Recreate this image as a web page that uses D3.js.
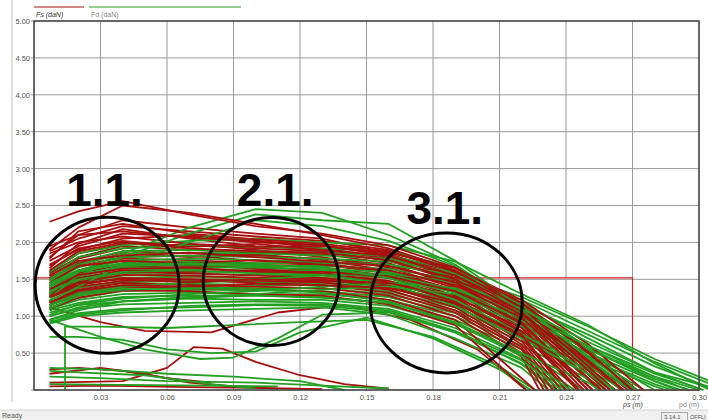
<!DOCTYPE html>
<html>
<head>
<meta charset="utf-8">
<script src="https://cdn.jsdelivr.net/npm/d3@7"></script>
<style>
  body { margin: 0; background: #fff; }
  svg { display: block; font-family: "Liberation Sans", Arial, sans-serif; }
  .tick text { font-size: 7.5px; fill: #555; }
</style>
</head>
<body>
<div class="canvas"></div>
<script>
const dims = { width: 708, height: 420, left: 34, right: 699, top: 21, bottom: 390 };

// shared stroke positions (m) for the main curves
const xs = [0.007, 0.02, 0.04, 0.07, 0.10, 0.13, 0.16, 0.19, 0.22, 0.25, 0.28];

// Fs (red) curves, values in daN on xs, then they fall to 0 at redEnds
const redCurves = [
    [1.88, 2.05, 2.22, 2.15, 2.08, 2.02, 1.90, 1.62, 1.15, 0.55],
    [1.80, 2.10, 2.30, 2.20, 2.12, 2.05, 1.85, 1.50, 1.02],
    [1.75, 1.95, 2.12, 2.08, 2.00, 1.96, 1.84, 1.58, 1.10, 0.42],
    [1.70, 1.90, 2.05, 2.10, 2.02, 1.92, 1.80, 1.52, 1.05],
    [1.65, 1.98, 2.18, 2.05, 1.95, 1.90, 1.78, 1.46, 0.95],
    [1.60, 1.85, 1.98, 1.96, 1.92, 1.88, 1.75, 1.48, 1.00, 0.35],
    [1.58, 1.80, 1.95, 1.90, 1.86, 1.84, 1.72, 1.40, 0.92],
    [1.55, 1.78, 1.92, 1.98, 1.90, 1.80, 1.66, 1.38, 0.88],
    [1.52, 1.72, 1.88, 1.85, 1.82, 1.78, 1.70, 1.44, 0.96, 0.30],
    [1.50, 1.70, 1.85, 1.80, 1.84, 1.76, 1.62, 1.35, 0.85],
    [1.48, 1.68, 1.80, 1.82, 1.75, 1.72, 1.60, 1.32, 0.80],
    [1.45, 1.62, 1.78, 1.76, 1.72, 1.70, 1.58, 1.36, 0.90],
    [1.42, 1.60, 1.72, 1.74, 1.70, 1.66, 1.55, 1.28, 0.78],
    [1.40, 1.58, 1.70, 1.68, 1.66, 1.62, 1.52, 1.25, 0.72],
    [1.38, 1.55, 1.66, 1.70, 1.64, 1.58, 1.48, 1.22, 0.70],
    [1.35, 1.52, 1.62, 1.60, 1.62, 1.56, 1.46, 1.20, 0.66],
    [1.32, 1.50, 1.60, 1.58, 1.55, 1.52, 1.42, 1.16, 0.62],
    [1.30, 1.46, 1.56, 1.55, 1.52, 1.50, 1.40, 1.12, 0.58],
    [1.28, 1.42, 1.52, 1.50, 1.48, 1.46, 1.36, 1.08, 0.55],
    [1.25, 1.40, 1.48, 1.50, 1.45, 1.42, 1.32, 1.05, 0.50],
    [1.20, 1.36, 1.45, 1.42, 1.40, 1.38, 1.28, 1.00, 0.45],
    [1.15, 1.30, 1.40, 1.38, 1.36, 1.34, 1.22, 0.95],
    [1.10, 1.25, 1.35, 1.34, 1.30, 1.28, 1.16, 0.88],
    [1.85, 2.00, 2.08, 1.98, 1.94, 1.95, 1.86, 1.65, 1.22, 0.62],
    [1.78, 2.15, 2.25, 2.12, 2.04, 1.98, 1.88, 1.60, 1.18, 0.50],
    [1.68, 1.92, 2.02, 1.94, 1.98, 1.90, 1.82, 1.55, 1.12, 0.40],
    [1.62, 1.88, 2.00, 1.92, 1.88, 1.86, 1.76, 1.50, 1.02],
    [2.28, 2.42, 2.56, 2.38, 2.22, 2.12, 1.96, 1.66, 1.18, 0.52],
    [1.90, 2.20, 2.50, 2.40, 2.25, 2.10, 1.92, 1.62, 1.12],
    [1.55, 1.75, 1.82, 1.86, 1.80, 1.74, 1.68, 1.46, 1.02, 0.38],
    [1.45, 1.68, 1.75, 1.72, 1.76, 1.70, 1.62, 1.42, 0.98],
    [1.36, 1.56, 1.64, 1.66, 1.60, 1.60, 1.54, 1.34, 0.92],
    [1.26, 1.45, 1.50, 1.46, 1.50, 1.48, 1.45, 1.26, 0.84],
    [1.18, 1.34, 1.42, 1.40, 1.44, 1.42, 1.38, 1.18, 0.75],
    [1.95, 2.10, 2.15, 2.06, 2.02, 1.96, 1.82, 1.55, 1.06]
];
const redEnds = [0.272, 0.258, 0.268, 0.262, 0.255, 0.265, 0.252, 0.250, 0.262, 0.248,
    0.246, 0.252, 0.245, 0.242, 0.240, 0.238, 0.236, 0.234, 0.232, 0.230,
    0.228, 0.226, 0.222, 0.275, 0.270, 0.266, 0.258, 0.270, 0.262, 0.266,
    0.256, 0.250, 0.246, 0.240, 0.260];

// Fd (green) curves
const greenCurves = [
    [0.90, 1.00, 1.05, 1.08, 1.10, 1.12, 1.02, 0.70, 0.30],
    [0.95, 1.04, 1.10, 1.12, 1.15, 1.14, 1.06, 0.78, 0.36],
    [1.00, 1.10, 1.16, 1.18, 1.20, 1.18, 1.10, 0.84, 0.42],
    [1.05, 1.15, 1.20, 1.24, 1.22, 1.22, 1.14, 0.90, 0.48],
    [1.08, 1.18, 1.26, 1.28, 1.28, 1.26, 1.18, 0.95, 0.55],
    [1.10, 1.22, 1.30, 1.32, 1.30, 1.30, 1.22, 1.00, 0.60, 0.15],
    [1.12, 1.25, 1.34, 1.36, 1.35, 1.34, 1.26, 1.04, 0.66, 0.22],
    [1.15, 1.28, 1.38, 1.40, 1.38, 1.38, 1.30, 1.08, 0.72, 0.28],
    [1.18, 1.32, 1.42, 1.44, 1.42, 1.42, 1.34, 1.12, 0.76, 0.32],
    [1.20, 1.35, 1.46, 1.48, 1.46, 1.45, 1.38, 1.16, 0.80, 0.36],
    [1.22, 1.38, 1.48, 1.50, 1.50, 1.48, 1.40, 1.20, 0.86, 0.42, 0.05],
    [1.25, 1.42, 1.52, 1.54, 1.52, 1.52, 1.44, 1.24, 0.90, 0.46, 0.08],
    [1.28, 1.45, 1.55, 1.58, 1.56, 1.55, 1.48, 1.28, 0.94, 0.50, 0.12],
    [1.30, 1.48, 1.58, 1.60, 1.60, 1.58, 1.52, 1.32, 0.98, 0.55, 0.15],
    [1.32, 1.50, 1.62, 1.64, 1.62, 1.62, 1.56, 1.36, 1.02, 0.60, 0.18],
    [1.35, 1.54, 1.65, 1.66, 1.66, 1.64, 1.60, 1.45, 1.15, 0.75, 0.32],
    [1.38, 1.56, 1.68, 1.70, 1.68, 1.68, 1.64, 1.50, 1.22, 0.80, 0.38],
    [1.40, 1.60, 1.72, 1.74, 1.72, 1.72, 1.70, 1.56, 1.26, 0.86, 0.42],
    [1.42, 1.62, 1.75, 1.78, 1.76, 1.74, 1.70, 1.55, 1.18, 0.70, 0.24],
    [1.45, 1.66, 1.80, 1.82, 1.80, 1.78, 1.74, 1.60, 1.16, 0.58, 0.12],
    [1.48, 1.70, 1.84, 1.86, 1.85, 1.82, 1.78, 1.58, 1.12, 0.52],
    [1.50, 1.74, 1.88, 1.90, 1.88, 1.86, 1.82, 1.62, 1.08, 0.46],
    [1.55, 1.80, 1.92, 1.96, 1.94, 1.92, 1.88, 1.66, 1.04, 0.40],
    [1.60, 1.85, 1.96, 2.02, 2.05, 2.00, 1.96, 1.74, 1.30, 0.88, 0.36],
    [1.30, 1.60, 1.85, 2.20, 2.45, 2.40, 2.10, 1.70, 1.10, 0.42],
    [1.25, 1.55, 1.80, 2.12, 2.38, 2.30, 2.25, 1.75, 1.12, 0.45],
    [1.20, 1.40, 1.70, 2.00, 2.30, 2.22, 2.02, 1.68, 1.06],
    [0.95, 1.08, 1.20, 1.26, 1.30, 1.36, 1.40, 1.30, 0.98, 0.55, 0.18],
    [1.02, 1.16, 1.24, 1.30, 1.34, 1.40, 1.45, 1.38, 1.04, 0.60, 0.22],
    [1.15, 1.30, 1.40, 1.45, 1.50, 1.55, 1.58, 1.46, 1.10, 0.65, 0.24],
    [1.00, 1.12, 1.20, 1.25, 1.28, 1.25, 1.18, 0.92, 0.50, 0.10],
    [0.92, 1.02, 1.08, 1.14, 1.16, 1.16, 1.08, 0.80, 0.40],
    [1.34, 1.50, 1.60, 1.62, 1.58, 1.56, 1.44, 1.14, 0.70, 0.22],
    [1.45, 1.62, 1.70, 1.72, 1.70, 1.66, 1.52, 1.22, 0.76, 0.26],
    [1.10, 1.28, 1.36, 1.38, 1.36, 1.32, 1.20, 0.90, 0.46]
];
const greenEnds = [0.232, 0.236, 0.240, 0.244, 0.248, 0.258, 0.262, 0.266, 0.270, 0.272,
    0.285, 0.288, 0.292, 0.296, 0.300, 0.308, 0.312, 0.315, 0.302, 0.290,
    0.280, 0.275, 0.270, 0.305, 0.270, 0.272, 0.262, 0.295, 0.302, 0.310,
    0.255, 0.238, 0.260, 0.262, 0.242];

// odd low curves, [x, y] pairs
const redExtra = [
    [[0.007, 1.12], [0.03, 0.92], [0.05, 0.80], [0.08, 0.78], [0.11, 1.05], [0.14, 1.15], [0.17, 0.95], [0.20, 0.55], [0.222, 0]],
    [[0.007, 0.22], [0.03, 0.30], [0.05, 0.22], [0.07, 0.10], [0.09, 0.05], [0.11, 0.02]],
    [[0.007, 0.10], [0.04, 0.12], [0.06, 0.30], [0.072, 0.58], [0.085, 0.56], [0.10, 0.38], [0.12, 0.20], [0.14, 0.08], [0.16, 0.02]],
    [[0.007, 0.05], [0.03, 0.06], [0.07, 0.04], [0.10, 0.03], [0.13, 0.01]],
    [[0.007, 0.28], [0.02, 0.30], [0.04, 0.26], [0.06, 0.16], [0.08, 0.10]]
];
const greenExtra = [
    [[0.007, 0.95], [0.03, 0.72], [0.05, 0.55], [0.075, 0.42], [0.09, 0.44], [0.11, 0.70], [0.13, 1.02], [0.16, 1.05], [0.19, 0.78], [0.22, 0.35], [0.235, 0]],
    [[0.014, 0], [0.014, 0.86], [0.03, 0.86], [0.06, 0.84], [0.09, 0.88], [0.12, 0.92], [0.15, 0.95], [0.18, 0.72], [0.21, 0.32], [0.226, 0]],
    [[0.007, 0.72], [0.02, 0.72], [0.04, 0.68], [0.06, 0.55], [0.08, 0.50], [0.10, 0.52], [0.12, 0.78], [0.15, 0.98], [0.18, 0.70], [0.21, 0.28], [0.224, 0]],
    [[0.007, 0.30], [0.03, 0.28], [0.06, 0.22], [0.09, 0.18], [0.12, 0.12], [0.14, 0]],
    [[0.007, 0.26], [0.02, 0.24], [0.05, 0.20], [0.08, 0.08], [0.10, 0.02]],
    [[0.007, 0.18], [0.03, 0.16], [0.06, 0.12], [0.10, 0.10], [0.13, 0.06], [0.16, 0.02]],
    [[0.007, 0.08], [0.04, 0.07], [0.08, 0.06], [0.11, 0.05]]
];

// reference window drawn in red
const windowLine = [[0, 1.52], [0.27, 1.52], [0.27, 0], [0.30, 0]];

const xTicks = [0.03, 0.06, 0.09, 0.12, 0.15, 0.18, 0.21, 0.24, 0.27, 0.30];
const yTicks = [0.5, 1, 1.5, 2, 2.5, 3, 3.5, 4, 4.5, 5];
const gridX = [0, ...xTicks];
const gridY = [0, ...yTicks];

// circled zones: centre (m, daN), radii in px, label
const zones = [
    { label: '1.1.', cx: 0.033, cy: 1.42, rx: 72, ry: 68, lx: 0.0145, ly: 2.49 },
    { label: '2.1.', cx: 0.107, cy: 1.47, rx: 68, ry: 64, lx: 0.0915, ly: 2.49 },
    { label: '3.1.', cx: 0.186, cy: 1.18, rx: 76, ry: 70, lx: 0.168, ly: 2.25 }
];

const red = '#a80f0f';
const green = '#22a022';

const svg = d3.select('.canvas')
    .append('svg')
    .attr('width', dims.width)
    .attr('height', dims.height);

const x = d3.scaleLinear().domain([0, 0.30]).range([dims.left, dims.right]);
const y = d3.scaleLinear().domain([0, 5]).range([dims.bottom, dims.top]);

// window frame bits
svg.append('line').attr('x1', 12).attr('x2', 12).attr('y1', 0).attr('y2', 402)
    .attr('stroke', '#bbb');
svg.append('rect').attr('x', 0).attr('y', 410).attr('width', dims.width).attr('height', 10)
    .attr('fill', '#f0f0f0');
svg.append('line').attr('x1', 0).attr('x2', dims.width).attr('y1', 410).attr('y2', 410)
    .attr('stroke', '#d4d4d4');
svg.append('text').attr('x', 2).attr('y', 418).attr('font-size', 7).attr('fill', '#555').text('Ready');
svg.append('rect').attr('x', 661.5).attr('y', 412.5).attr('width', 26).attr('height', 8)
    .attr('fill', 'none').attr('stroke', '#aaa');
svg.append('text').attr('x', 664).attr('y', 418.5).attr('font-size', 6).attr('fill', '#555').text('3.14.1');
svg.append('text').attr('x', 690).attr('y', 418.5).attr('font-size', 5.5).attr('fill', '#555').text('OFFLI');

// legend strip at top
svg.append('line').attr('x1', 34).attr('x2', 84).attr('y1', 7).attr('y2', 7).attr('stroke', red).attr('stroke-width', 1.2);
svg.append('line').attr('x1', 89).attr('x2', 241).attr('y1', 7).attr('y2', 7).attr('stroke', green).attr('stroke-width', 1.2);
svg.append('text').attr('x', 36).attr('y', 17).attr('font-size', 7).attr('font-style', 'italic')
    .attr('fill', '#333').text('Fs (daN)');
svg.append('text').attr('x', 91).attr('y', 17).attr('font-size', 7).attr('fill', '#888').text('Fd (daN)');

// grid
const grid = svg.append('g').attr('class', 'grid');
grid.selectAll('.gx').data(gridX).join('line')
    .attr('x1', d => x(d)).attr('x2', d => x(d))
    .attr('y1', dims.top).attr('y2', dims.bottom)
    .attr('stroke', '#9a9a9a').attr('stroke-width', 1);
grid.selectAll('.gy').data(gridY).join('line')
    .attr('x1', dims.left - 3).attr('x2', dims.right)
    .attr('y1', d => y(d)).attr('y2', d => y(d))
    .attr('stroke', '#9a9a9a').attr('stroke-width', 1);

// axes labels
const yAxis = d3.axisLeft(y).tickValues(yTicks).tickSize(0).tickPadding(4).tickFormat(d3.format('.2f'));
svg.append('g').attr('transform', `translate(${dims.left},0)`).call(yAxis)
    .call(g => g.select('.domain').remove());
const xAxis = d3.axisBottom(x).tickValues(xTicks).tickSize(0).tickPadding(5).tickFormat(d3.format('.2f'));
svg.append('g').attr('transform', `translate(0,${dims.bottom})`).call(xAxis)
    .call(g => g.select('.domain').remove());

svg.append('text').attr('x', 623).attr('y', 407).attr('font-size', 7).attr('font-style', 'italic')
    .attr('fill', '#444').text('ps (m)');
svg.append('text').attr('x', 679).attr('y', 407).attr('font-size', 7).attr('fill', '#888').text('pd (m)');

// data lines
const line = d3.line().x(d => x(d[0])).y(d => y(d[1]));
const toPoints = (vals, end) => [...vals.map((v, i) => [xs[i], v]), [end, 0]];

const series = [];
const n = Math.max(redCurves.length, greenCurves.length);
for (let i = 0; i < n; i++) {
    if (greenCurves[i]) series.push({ pts: toPoints(greenCurves[i], greenEnds[i]), col: green });
    if (redCurves[i]) series.push({ pts: toPoints(redCurves[i], redEnds[i]), col: red });
}
greenExtra.forEach(p => series.unshift({ pts: p, col: green }));
redExtra.forEach(p => series.unshift({ pts: p, col: red }));

svg.append('path').attr('d', line(windowLine)).attr('fill', 'none')
    .attr('stroke', '#d02020').attr('stroke-width', 1.2);

svg.append('g').attr('class', 'curves')
    .selectAll('path').data(series).join('path')
    .attr('d', d => line(d.pts))
    .attr('fill', 'none')
    .attr('stroke', d => d.col)
    .attr('stroke-width', 1.8)
    .attr('stroke-linejoin', 'round');

// plot border
svg.append('rect').attr('x', dims.left).attr('y', dims.top)
    .attr('width', dims.right - dims.left).attr('height', dims.bottom - dims.top)
    .attr('fill', 'none').attr('stroke', '#444').attr('stroke-width', 1.5);

// circled zones
const zoneG = svg.append('g').attr('class', 'zones');
zoneG.selectAll('ellipse').data(zones).join('ellipse')
    .attr('cx', d => x(d.cx)).attr('cy', d => y(d.cy))
    .attr('rx', d => d.rx).attr('ry', d => d.ry)
    .attr('fill', 'none').attr('stroke', '#000').attr('stroke-width', 3);
zoneG.selectAll('text').data(zones).join('text')
    .attr('x', d => x(d.lx)).attr('y', d => y(d.ly))
    .attr('font-size', 46).attr('font-weight', 'bold').attr('fill', '#000')
    .text(d => d.label);
</script>
</body>
</html>
